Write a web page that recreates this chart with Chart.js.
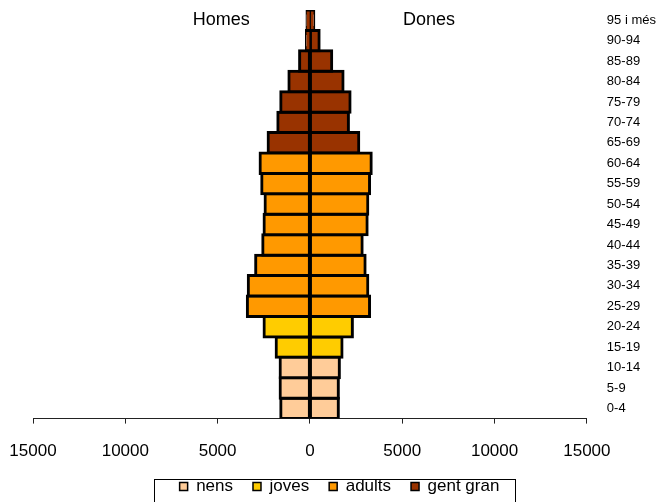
<!DOCTYPE html>
<html>
<head>
<meta charset="utf-8">
<script src="https://cdn.jsdelivr.net/npm/chart.js@4/dist/chart.umd.min.js"></script>
<style>
  html, body { margin: 0; padding: 0; background: #fff; overflow: hidden; }
  #wrap { width: 661px; height: 505px; position: relative; }
</style>
</head>
<body>
<div id="wrap"><canvas id="piramide"></canvas></div>
<script>
  // Piramide d'edats

  const edats = ['0-4', '5-9', '10-14', '15-19', '20-24', '25-29', '30-34', '35-39', '40-44', '45-49',
    '50-54', '55-59', '60-64', '65-69', '70-74', '75-79', '80-84', '85-89', '90-94', '95 i més'];
  const homes = [1580, 1615, 1615, 1830, 2485, 3390, 3340, 2940, 2555, 2485,
    2430, 2610, 2700, 2265, 1740, 1580, 1140, 560, 190, 160];
  const dones = [1540, 1540, 1595, 1740, 2300, 3230, 3135, 2990, 2830, 3100,
    3135, 3230, 3320, 2645, 2085, 2175, 1795, 1180, 500, 210];
  // grup de cada franja d'edat (index a grups)
  const grupEdat = [0, 0, 0, 1, 1, 2, 2, 2, 2, 2, 2, 2, 2, 3, 3, 3, 3, 3, 3, 3];
  const grups = ['nens', 'joves', 'adults', 'gent gran'];
  const colors = ['#FFCC99', '#FFCC00', '#FF9900', '#993300'];
  const xTicks = [-15000, -10000, -5000, 0, 5000, 10000, 15000];

  const font = 'Liberation Sans, Arial, sans-serif';

  function barDataset(label, color, data) {
    return {
      label: label,
      data: data,
      backgroundColor: color,
      borderColor: '#000',
      borderWidth: 3,
      inflateAmount: 1.5,
      borderSkipped: false,
      categoryPercentage: 1,
      barPercentage: 1,
      stack: 'p',
    };
  }

  const datasets = [];
  grups.forEach((g, gi) => {
    datasets.push(barDataset(g, colors[gi], homes.map((v, i) => (grupEdat[i] === gi ? -v : null))));
  });
  grups.forEach((g, gi) => {
    datasets.push(barDataset(g, colors[gi], dones.map((v, i) => (grupEdat[i] === gi ? v : null))));
  });

  // Homes / Dones titles
  const sexLabels = {
    id: 'sexLabels',
    afterDraw(chart) {
      const ctx = chart.ctx;
      const x = chart.scales.x;
      ctx.save();
      ctx.font = '18px ' + font;
      ctx.fillStyle = '#000';
      ctx.textAlign = 'center';
      ctx.textBaseline = 'alphabetic';
      ctx.fillText('Homes', x.getPixelForValue(-4800), 25);
      ctx.fillText('Dones', x.getPixelForValue(6450), 25);
      ctx.restore();
    },
  };

  // legend a bit to the left, and a border round it
  const legendFrame = {
    id: 'legendFrame',
    afterLayout(chart) {
      const lg = chart.legend;
      if (!lg) return;
      lg.left -= 5;
      lg.right -= 5;
    },
    afterDraw(chart) {
      const boxes = chart.legend && chart.legend.legendHitBoxes;
      if (!boxes || !boxes.length) return;
      const first = boxes[0];
      const last = boxes[boxes.length - 1];
      const left = Math.round(first.left - 26) + 0.5;
      const right = Math.round(last.left + last.width + 16) + 0.5;
      const top = Math.round(first.top + first.height / 2 - 8) + 0.5;
      const ctx = chart.ctx;
      ctx.save();
      ctx.strokeStyle = '#000';
      ctx.lineWidth = 1;
      ctx.strokeRect(left, top, right - left, chart.height + 10 - top);
      ctx.restore();
    },
  };

  const ctx = document.getElementById('piramide').getContext('2d');
  new Chart(ctx, {
    type: 'bar',
    data: {
      labels: edats,
      datasets: datasets,
    },
    options: {
      indexAxis: 'y',
      responsive: true,
      maintainAspectRatio: false,
      animation: false,
      layout: {
        padding: { top: 10, left: 33, right: 5, bottom: 0 },
      },
      scales: {
        x: {
          stacked: true,
          min: -15000,
          max: 15000,
          afterBuildTicks: (scale) => {
            scale.ticks = xTicks.map((v) => ({ value: v }));
          },
          afterFit: (scale) => {
            scale.paddingLeft = 0;
            scale.paddingRight = 0;
            scale.height -= 22; // keep only one label padding below the ticks
          },
          grid: {
            drawOnChartArea: false,
            drawTicks: true,
            tickLength: 5,
            color: '#222',
          },
          border: { display: true, color: '#222', width: 1 },
          ticks: {
            padding: 18,
            color: '#000',
            font: { family: font, size: 17 },
            maxRotation: 0,
            callback: (v) => String(Math.abs(v)),
          },
        },
        y: {
          stacked: true,
          reverse: true,
          position: 'right',
          afterFit: (scale) => {
            scale.paddingTop = 0;
            scale.paddingBottom = 0;
            scale.width -= 20;
          },
          grid: { display: false, drawTicks: false },
          border: { display: false },
          ticks: {
            padding: 20,
            color: '#000',
            font: { family: font, size: 13 },
            autoSkip: false,
          },
        },
      },
      plugins: {
        legend: {
          position: 'bottom',
          labels: {
            boxWidth: 8,
            boxHeight: 8,
            padding: 20,
            color: '#000',
            font: { family: font, size: 17 },
            filter: (item) => item.datasetIndex < 4,
            generateLabels: (chart) => {
              const items = Chart.defaults.plugins.legend.labels.generateLabels(chart);
              items.forEach((it) => { it.lineWidth = 1.5; });
              return items;
            },
          },
        },
        tooltip: { enabled: false },
      },
    },
    plugins: [sexLabels, legendFrame],
  });
</script>
</body>
</html>
